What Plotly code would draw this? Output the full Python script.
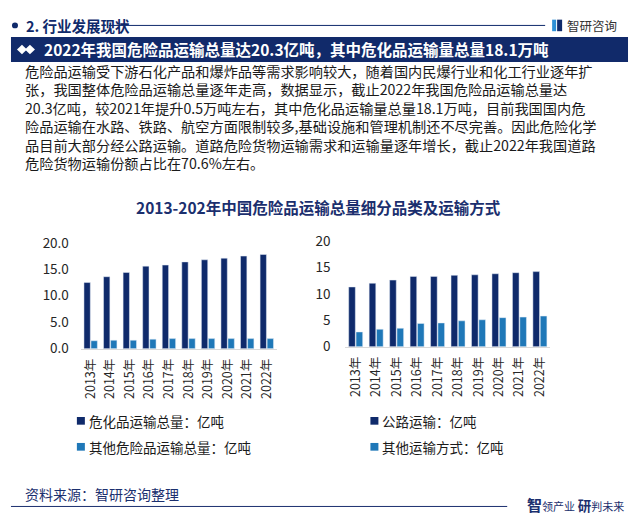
import plotly.graph_objects as go

W, H = 637, 527

years = ["2013年", "2014年", "2015年", "2016年", "2017年", "2018年", "2019年", "2020年", "2021年", "2022年"]
hazchem_total = [12.5, 13.6, 14.4, 15.6, 15.8, 16.4, 16.8, 17.1, 17.5, 17.8]
other_hazard_total = [1.5, 1.6, 1.6, 1.8, 1.9, 1.9, 1.9, 1.9, 1.9, 1.9]
road_transport = [11.3, 12.0, 12.6, 13.3, 13.3, 13.5, 13.6, 13.8, 14.0, 14.2]
other_transport = [2.8, 3.3, 3.5, 4.4, 4.5, 4.9, 5.1, 5.5, 5.6, 5.8]
left_names = ["危化品运输总量：亿吨", "其他危险品运输总量：亿吨"]
right_names = ["公路运输：亿吨", "其他运输方式：亿吨"]
left_ticks = [0, 5, 10, 15, 20]
right_ticks = [0, 5, 10, 15, 20]

NAVY = "#0f2a6b"
LIGHT = "#1f78b8"
TXT = "#262626"
FONT = "Noto Sans CJK SC"

def px(x):
    return x / W

def py(y):
    return 1 - y / H

fig = go.Figure()
fig.add_trace(go.Bar(x=years, y=hazchem_total, name=left_names[0], marker_color=NAVY, xaxis="x", yaxis="y"))
fig.add_trace(go.Bar(x=years, y=other_hazard_total, name=left_names[1], marker_color=LIGHT, xaxis="x", yaxis="y"))
fig.add_trace(go.Bar(x=years, y=road_transport, name=right_names[0], marker_color=NAVY, xaxis="x2", yaxis="y2"))
fig.add_trace(go.Bar(x=years, y=other_transport, name=right_names[1], marker_color=LIGHT, xaxis="x2", yaxis="y2"))

xcommon = dict(showline=True, linecolor="#d9d9d9", linewidth=1, tickangle=-90, ticks="",
               tickfont=dict(size=12.5, color=TXT, family=FONT), showgrid=False, fixedrange=True,
               ticklabelstandoff=4)
ycommon = dict(showline=False, showgrid=False, zeroline=False, ticks="", range=[0, 20],
               tickfont=dict(size=13.5, color=TXT, family=FONT), fixedrange=True)

fig.update_layout(
    width=W, height=H, margin=dict(l=0, r=0, t=0, b=0),
    paper_bgcolor="white", plot_bgcolor="white",
    showlegend=False, barmode="group", bargap=0.28, bargroupgap=0.1,
    font=dict(family=FONT, color=TXT),
    xaxis=dict(domain=[px(80), px(276)], anchor="y", **xcommon),
    yaxis=dict(domain=[py(351), py(241)], anchor="x", tickvals=left_ticks,
               ticktext=[f"{v:.1f}" for v in left_ticks], ticklabelstandoff=11, **ycommon),
    xaxis2=dict(domain=[px(345), px(550)], anchor="y2", **xcommon),
    yaxis2=dict(domain=[py(349), py(239)], anchor="x2", tickvals=right_ticks,
                ticktext=[str(v) for v in right_ticks], ticklabelstandoff=14, **ycommon),
)

shapes = []
ann = []

def text(x, y, s, size, color=TXT, bold=False, xanchor="left", yanchor="middle", family=FONT, align="left"):
    if bold:
        s = f"<b>{s}</b>"
    ann.append(dict(x=px(x), y=py(y), xref="paper", yref="paper", text=s, showarrow=False,
                    xanchor=xanchor, yanchor=yanchor, align=align,
                    font=dict(size=size, color=color, family=family)))

# header
shapes.append(dict(type="circle", xref="paper", yref="paper", x0=px(11), x1=px(17), y0=py(18), y1=py(12),
                   fillcolor=NAVY, line=dict(width=0)))
text(23, 15, "2. 行业发展现状", 14.5, color=NAVY, bold=True)
shapes.append(dict(type="line", xref="paper", yref="paper", x0=px(108), x1=px(545), y0=py(15), y1=py(15),
                   line=dict(color=NAVY, width=1)))
# logo icon
shapes.append(dict(type="rect", xref="paper", yref="paper", x0=px(552), x1=px(556), y0=py(21), y1=py(9),
                   fillcolor="#2d8fd5", line=dict(width=0)))
shapes.append(dict(type="rect", xref="paper", yref="paper", x0=px(557), x1=px(562), y0=py(21), y1=py(9),
                   fillcolor=NAVY, line=dict(width=0)))
text(565, 15, "智研咨询", 12.5, color="#333333")

# banner
shapes.append(dict(type="rect", xref="paper", yref="paper", x0=px(10), x1=px(628), y0=py(53), y1=py(27),
                   fillcolor="#112a6a", line=dict(width=0)))
for cx in (21, 29):
    shapes.append(dict(type="path", xref="paper", yref="paper",
                       path=f"M {px(cx-5)},{py(40)} L {px(cx)},{py(35)} L {px(cx+5)},{py(40)} L {px(cx)},{py(45)} Z",
                       fillcolor="white", line=dict(width=0)))
text(41, 40, "2022年我国危险品运输总量达20.3亿吨，其中危化品运输量总量18.1万吨", 15.5, color="white", bold=True)

# paragraph
para = [
    "危险品运输受下游石化产品和爆炸品等需求影响较大，随着国内民爆行业和化工行业逐年扩",
    "张，我国整体危险品运输总量逐年走高，数据显示，截止2022年我国危险品运输总量达",
    "20.3亿吨，较2021年提升0.5万吨左右，其中危化品运输量总量18.1万吨，目前我国国内危",
    "险品运输在水路、铁路、航空方面限制较多,基础设施和管理机制还不尽完善。因此危险化学",
    "品目前大部分经公路运输。道路危险货物运输需求和运输量逐年增长，截止2022年我国道路",
    "危险货物运输份额占比在70.6%左右。",
]
text(22, 50, "<br>".join(para), 14.2, color="#1a1a1a", yanchor="top")

# chart title
text(318, 204, "2013-202年中国危险品运输总量细分品类及运输方式", 15.5, color="#1b2f6e", bold=True, xanchor="center")

# legends
for names, x0 in ((left_names, 76), (right_names, 370)):
    for j, (nm, col) in enumerate(zip(names, (NAVY, LIGHT))):
        yy = 426 + j * 27
        shapes.append(dict(type="rect", xref="paper", yref="paper", x0=px(x0), x1=px(x0 + 8),
                           y0=py(yy + 4), y1=py(yy - 4), fillcolor=col, line=dict(width=0)))
        text(x0 + 10, yy, nm, 13.5, color="#1a1a1a")

# footer
text(22, 502, "资料来源：智研咨询整理", 14, color="#1b2f6e")
shapes.append(dict(type="line", xref="paper", yref="paper", x0=px(10), x1=px(507), y0=py(515), y1=py(515),
                   line=dict(color="#1b2f6e", width=1)))
ann.append(dict(x=px(525), y=py(513), xref="paper", yref="paper", showarrow=False, xanchor="left", yanchor="middle",
                text="<b><span style='font-size:15px'>智</span></b><span style='font-size:11px'>领产业</span> "
                     "<b><span style='font-size:13.5px'>研</span></b><span style='font-size:11px'>判未来</span>",
                font=dict(size=12, color="#1b2f6e", family=FONT)))

fig.update_layout(shapes=shapes, annotations=ann)
fig.write_html("out.html")
